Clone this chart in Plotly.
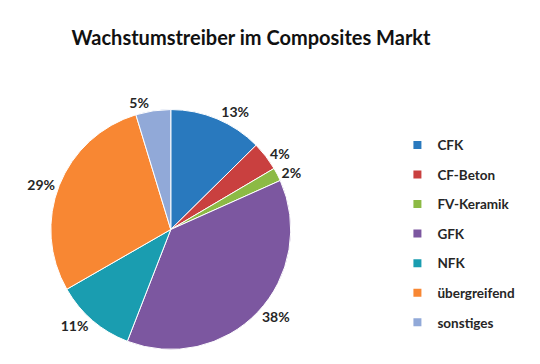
import plotly.graph_objects as go

categories = ["CFK", "CF-Beton", "FV-Keramik", "GFK", "NFK", "übergreifend", "sonstiges"]
values = [12.6, 3.9, 1.8, 37.6, 10.8, 28.6, 4.7]
colors = ["#2979BE", "#C9403F", "#8CBA45", "#7C57A0", "#1A9DB0", "#F88733", "#91A9D8"]

FONT = "Lato, 'Open Sans', sans-serif"

fig = go.Figure()
fig.add_trace(go.Pie(
    labels=categories, values=values, sort=False, direction="clockwise", rotation=0,
    marker=dict(colors=colors, line=dict(color="white", width=1)),
    textinfo="percent", texttemplate="%{percent:.0%}", textposition="outside",
    textfont=dict(family=FONT, size=14, color="#262626", weight="bold"),
    showlegend=False, domain=dict(x=[0.006, 0.506], y=[0.062, 0.721]),
    hoverinfo="label+percent",
))
for c, col in zip(categories, colors):
    fig.add_trace(go.Scatter(
        x=[None], y=[None], mode="markers", name=c, legendgroup=c,
        marker=dict(symbol="square", size=8, color=col),
    ))

fig.update_layout(
    width=540, height=364, margin=dict(l=0, r=0, t=0, b=0),
    paper_bgcolor="white", plot_bgcolor="white",
    title=dict(text="<b>Wachstumstreiber im Composites Markt</b>", x=0.45, xanchor="center",
               y=0.918, yanchor="middle", font=dict(family=FONT, size=20, color="#111111")),
    xaxis=dict(visible=False), yaxis=dict(visible=False),
    legend=dict(x=0.703, y=0.38, xanchor="left", yanchor="middle", tracegroupgap=9,
                itemwidth=30, font=dict(family=FONT, size=13.5, color="#262626", weight="bold")),
    showlegend=True,
)
fig.write_html("out.html")
